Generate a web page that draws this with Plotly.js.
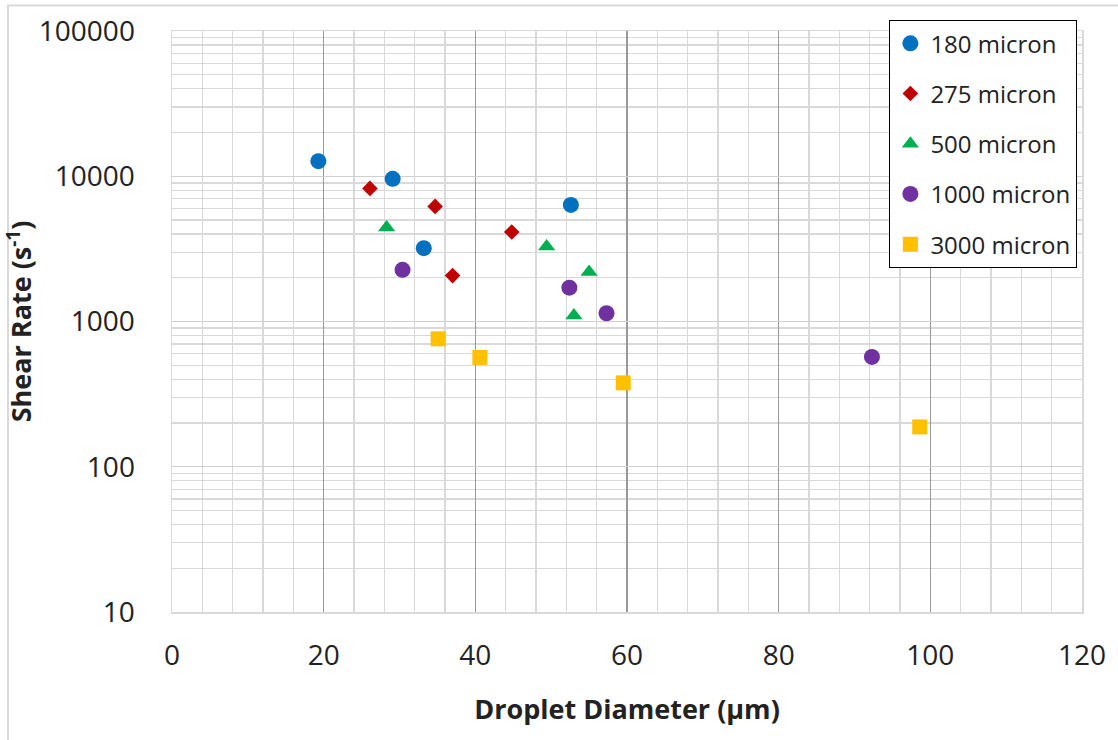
<!DOCTYPE html>
<html>
<head>
<meta charset="utf-8">
<script src="https://cdn.plot.ly/plotly-3.0.1.min.js"></script>
<style>
  html, body { margin: 0; padding: 0; background: #ffffff; }
  #chart { width: 1118px; height: 740px; }
</style>
</head>
<body>
<div id="chart"></div>
<script>
// Series names
const seriesNames = ["180 micron", "275 micron", "500 micron", "1000 micron", "3000 micron"];

// Droplet diameter (µm) per series
const x180  = [19.3, 29.1, 33.2, 52.6];
const x275  = [26.1, 34.7, 37.0, 44.8];
const x500  = [28.3, 49.4, 55.0, 53.0];
const x1000 = [30.4, 52.4, 57.3, 92.3];
const x3000 = [35.1, 40.6, 59.5, 98.6];

// Shear rate (1/s) per series
const y180  = [12700, 9600, 3200, 6350];
const y275  = [8250, 6200, 2070, 4130];
const y500  = [4440, 3280, 2190, 1100];
const y1000 = [2270, 1710, 1140, 570];
const y3000 = [760, 566, 378, 188];

const colors  = ["#0070C0", "#C00000", "#00B050", "#7030A0", "#FFC000"];
const symbols = ["circle", "diamond", "triangle-up", "circle", "square"];
const sizes   = [16, 12, 15, 16, 15];

const xs = [x180, x275, x500, x1000, x3000];
const ys = [y180, y275, y500, y1000, y3000];

const traces = seriesNames.map((name, i) => ({
  type: "scatter",
  mode: "markers",
  name: name,
  legendgroup: "g" + i,
  x: xs[i],
  y: ys[i],
  marker: { color: colors[i], symbol: symbols[i], size: sizes[i], line: { width: 0 } }
}));

// minor x grid every 4 units, skipping the major (every 20) positions
const xMinor = [];
for (let v = 4; v < 120; v += 4) { if (v % 20 !== 0) xMinor.push(v); }

const fontFam = "'Open Sans', 'Noto Sans', sans-serif";

const layout = {
  width: 1118,
  height: 740,
  margin: { l: 172, r: 36, t: 31, b: 128, pad: 0 },
  paper_bgcolor: "#ffffff",
  plot_bgcolor: "#ffffff",
  font: { family: fontFam, color: "#222222" },
  showlegend: true,
  legend: {
    x: 0.788, y: 1.019, xanchor: "left", yanchor: "top",
    bordercolor: "#000000", borderwidth: 1.3,
    bgcolor: "#ffffff",
    font: { family: fontFam, size: 24, color: "#222222" },
    traceorder: "grouped",
    tracegroupgap: 16
  },
  xaxis: {
    range: [0, 120],
    tick0: 0, dtick: 20,
    showgrid: true, gridcolor: "#999999", gridwidth: 1.5,
    minor: { tickmode: "array", tickvals: xMinor, showgrid: true, gridcolor: "#d9d9d9", gridwidth: 1.3 },
    zeroline: false,
    showline: true, mirror: true, linecolor: "#d9d9d9", linewidth: 1.5,
    ticks: "outside", ticklen: 18, tickcolor: "rgba(0,0,0,0)",
    tickfont: { family: fontFam, size: 28, color: "#222222" },
    title: { text: "<b>Droplet Diameter (µm)</b>", font: { family: fontFam, size: 27, color: "#222222" }, standoff: 28 },
    fixedrange: true
  },
  yaxis: {
    type: "log",
    range: [1, 5],
    dtick: 1,
    tickformat: "d",
    showgrid: true, gridcolor: "#d0d0d0", gridwidth: 1.3,
    minor: { dtick: "D1", showgrid: true, gridcolor: "#d9d9d9", gridwidth: 1.3 },
    zeroline: false,
    showline: true, mirror: true, linecolor: "#d9d9d9", linewidth: 1.5,
    ticks: "outside", ticklen: 30, tickcolor: "rgba(0,0,0,0)",
    tickfont: { family: fontFam, size: 28, color: "#222222" },
    title: { text: "<b>Shear Rate (s<sup>-1</sup>)</b>", font: { family: fontFam, size: 27, color: "#222222" }, standoff: 0 },
    fixedrange: true
  },
  shapes: [{
    type: "rect", xref: "paper", yref: "paper",
    x0: -0.1802, x1: 1.05, y0: -0.25, y1: 1.0439,
    line: { color: "#d9d9d9", width: 2 },
    fillcolor: "rgba(0,0,0,0)", layer: "below"
  }]
};

Plotly.newPlot("chart", traces, layout, { displayModeBar: false, staticPlot: true });
</script>
</body>
</html>
